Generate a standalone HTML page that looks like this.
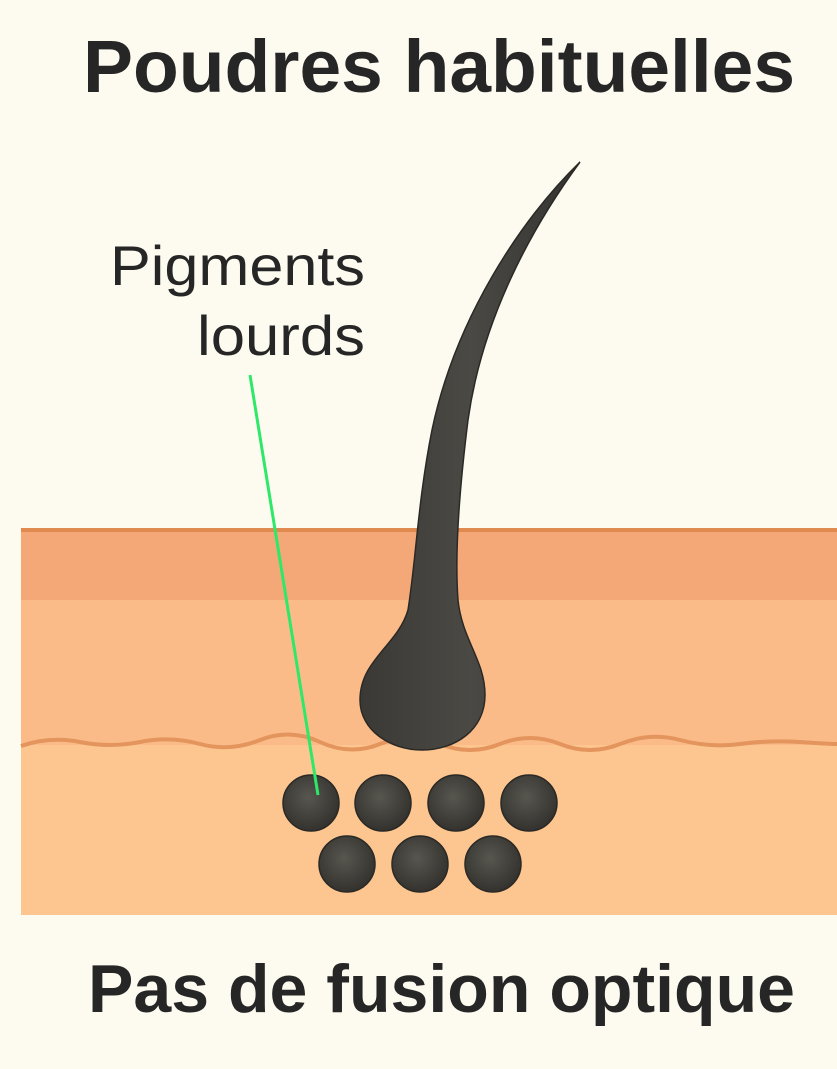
<!DOCTYPE html>
<html><head><style>
html,body{margin:0;padding:0;background:#fdfbf0;}
svg{display:block}
</style></head><body>
<svg width="837" height="1069" viewBox="0 0 837 1069" xmlns="http://www.w3.org/2000/svg">
<defs>
<radialGradient id="g" cx="0.45" cy="0.4" r="0.6"><stop offset="0" stop-color="#57564f"/><stop offset="1" stop-color="#33322e"/></radialGradient>
<linearGradient id="h" x1="0" y1="0" x2="1" y2="0"><stop offset="0" stop-color="#3a3935"/><stop offset="0.5" stop-color="#4a4944"/><stop offset="1" stop-color="#343330"/></linearGradient>
</defs>
<rect width="837" height="1069" fill="#fdfbf0"/>
<rect x="21" y="528" width="816" height="387" fill="#fdc690"/>
<rect x="21" y="600" width="816" height="145" fill="#fbbb88"/>
<rect x="21" y="528" width="816" height="72" fill="#f5a877"/>
<rect x="21" y="528" width="816" height="4" fill="#e08a50"/>
<path d="M21,746 Q50,736 80,742 T140,742 T200,744 T260,740 T320,742 T380,744 T440,744 T500,744 T560,744 T620,744 T680,740 T740,744 T800,742 T837,744" fill="none" stroke="#e3955d" stroke-width="4"/>
<path d="M580,162 C520,220 455,320 432,430 C418,500 416,560 408,610 C398,645 360,660 360,700 C360,730 390,750 422,750 C455,750 485,730 485,695 C485,660 462,640 458,600 C455,560 458,500 468,420 C482,320 530,230 580,162 Z" fill="url(#h)" stroke="#2a2926" stroke-width="1.5"/>
<g fill="url(#g)" stroke="#2a2926" stroke-width="1.5">
<circle cx="311" cy="803" r="28"/><circle cx="383" cy="803" r="28"/><circle cx="456" cy="803" r="28"/><circle cx="529" cy="803" r="28"/>
<circle cx="347" cy="864" r="28"/><circle cx="420" cy="864" r="28"/><circle cx="493" cy="864" r="28"/>
</g>
<line x1="250" y1="375" x2="318" y2="795" stroke="#2ee86a" stroke-width="3"/>
<g font-family="Liberation Sans, sans-serif" fill="#262626">
<text x="795" y="92" text-anchor="end" font-size="74" font-weight="bold" textLength="712" lengthAdjust="spacingAndGlyphs">Poudres habituelles</text>
<text x="795" y="1012" text-anchor="end" font-size="68" font-weight="bold" textLength="707" lengthAdjust="spacingAndGlyphs">Pas de fusion optique</text>
<text x="365" y="285" text-anchor="end" font-size="56" textLength="255" lengthAdjust="spacingAndGlyphs">Pigments</text>
<text x="365" y="355" text-anchor="end" font-size="56" textLength="168" lengthAdjust="spacingAndGlyphs">lourds</text>
</g>
</svg>
</body></html>
